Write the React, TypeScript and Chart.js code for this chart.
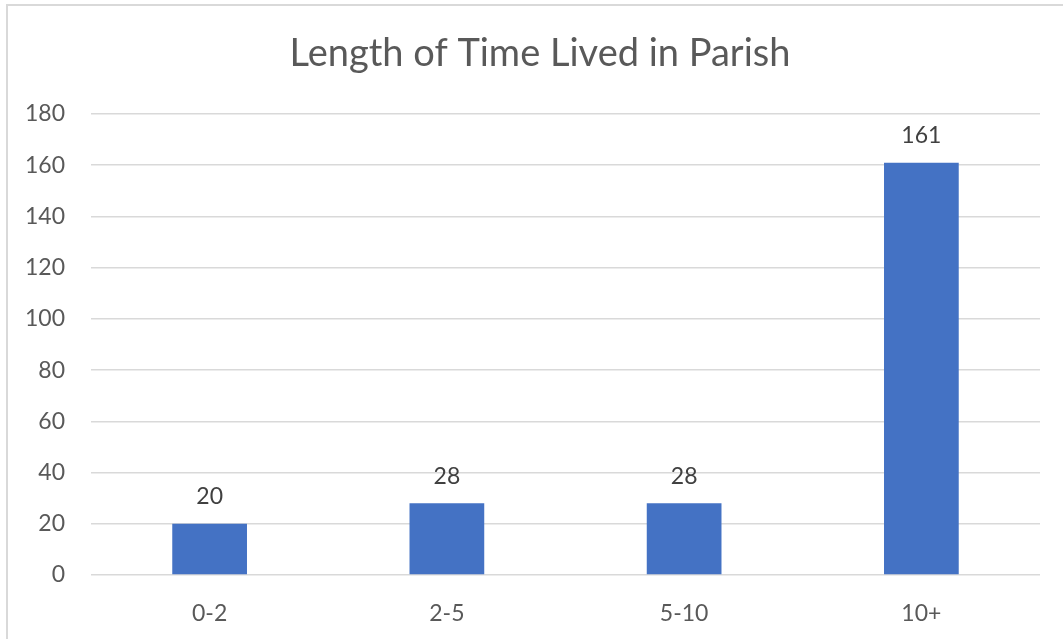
import React, { useEffect, useRef } from "react";
import { Chart, registerables } from "chart.js";

Chart.register(...registerables);

const TITLE = "Length of Time Lived in Parish";
const categories = ["0-2", "2-5", "5-10", "10+"];
const values = [20, 28, 28, 161];
const yMin = 0;
const yMax = 180;
const yStep = 20;

const FONT = "Lato, 'Open Sans', sans-serif";

const framePlugin = {
  id: "frame",
  beforeDraw(chart: any) {
    const { ctx } = chart;
    ctx.save();
    ctx.fillStyle = "#ffffff";
    ctx.fillRect(0, 0, chart.width, chart.height);
    ctx.strokeStyle = "#d9d9d9";
    ctx.lineWidth = 2;
    ctx.beginPath();
    ctx.moveTo(7, chart.height + 2);
    ctx.lineTo(7, 5);
    ctx.lineTo(chart.width + 2, 5);
    ctx.stroke();
    ctx.fillStyle = "#595959";
    ctx.font = `38px ${FONT}`;
    ctx.textAlign = "center";
    ctx.textBaseline = "middle";
    ctx.fillText(TITLE, 540, 54);
    ctx.restore();
  },
};

const labelPlugin = {
  id: "valueLabels",
  afterDatasetsDraw(chart: any) {
    const { ctx } = chart;
    const meta = chart.getDatasetMeta(0);
    ctx.save();
    ctx.fillStyle = "#404040";
    ctx.font = `23px ${FONT}`;
    ctx.textAlign = "center";
    ctx.textBaseline = "middle";
    meta.data.forEach((bar: any, i: number) => {
      ctx.fillText(String(values[i]), bar.x, bar.y - 27);
    });
    ctx.restore();
  },
};

export default function App() {
  const ref = useRef<HTMLCanvasElement>(null);
  useEffect(() => {
    if (!ref.current) return;
    const chart = new Chart(ref.current, {
      type: "bar",
      data: {
        labels: categories,
        datasets: [
          {
            data: values,
            backgroundColor: "#4472C4",
            categoryPercentage: 1,
            barPercentage: 0.315,
          },
        ],
      },
      options: {
        animation: false,
        responsive: false,
        layout: { padding: { top: 114, right: 23, bottom: 0, left: 0 } },
        plugins: {
          legend: { display: false },
          title: { display: false },
          tooltip: { enabled: false },
        },
        scales: {
          x: {
            grid: { display: false, drawTicks: false },
            border: { display: false },
            ticks: {
              color: "#595959",
              font: { family: FONT, size: 23 },
              padding: 25,
            },
            afterFit(scale: any) {
              scale.height = 64;
            },
          },
          y: {
            min: yMin,
            max: yMax,
            grid: { color: "#d9d9d9", lineWidth: 1.5, drawTicks: false },
            border: { display: false },
            ticks: {
              stepSize: yStep,
              color: "#595959",
              font: { family: FONT, size: 23 },
              padding: 26,
            },
            afterFit(scale: any) {
              scale.width = 91;
            },
          },
        },
      },
      plugins: [framePlugin, labelPlugin],
    });
    return () => chart.destroy();
  }, []);
  return (
    <div style={{ position: "fixed", left: 0, top: 0, width: 1063, height: 639 }}>
      <canvas ref={ref} width={1063} height={639} style={{ display: "block" }} />
    </div>
  );
}
